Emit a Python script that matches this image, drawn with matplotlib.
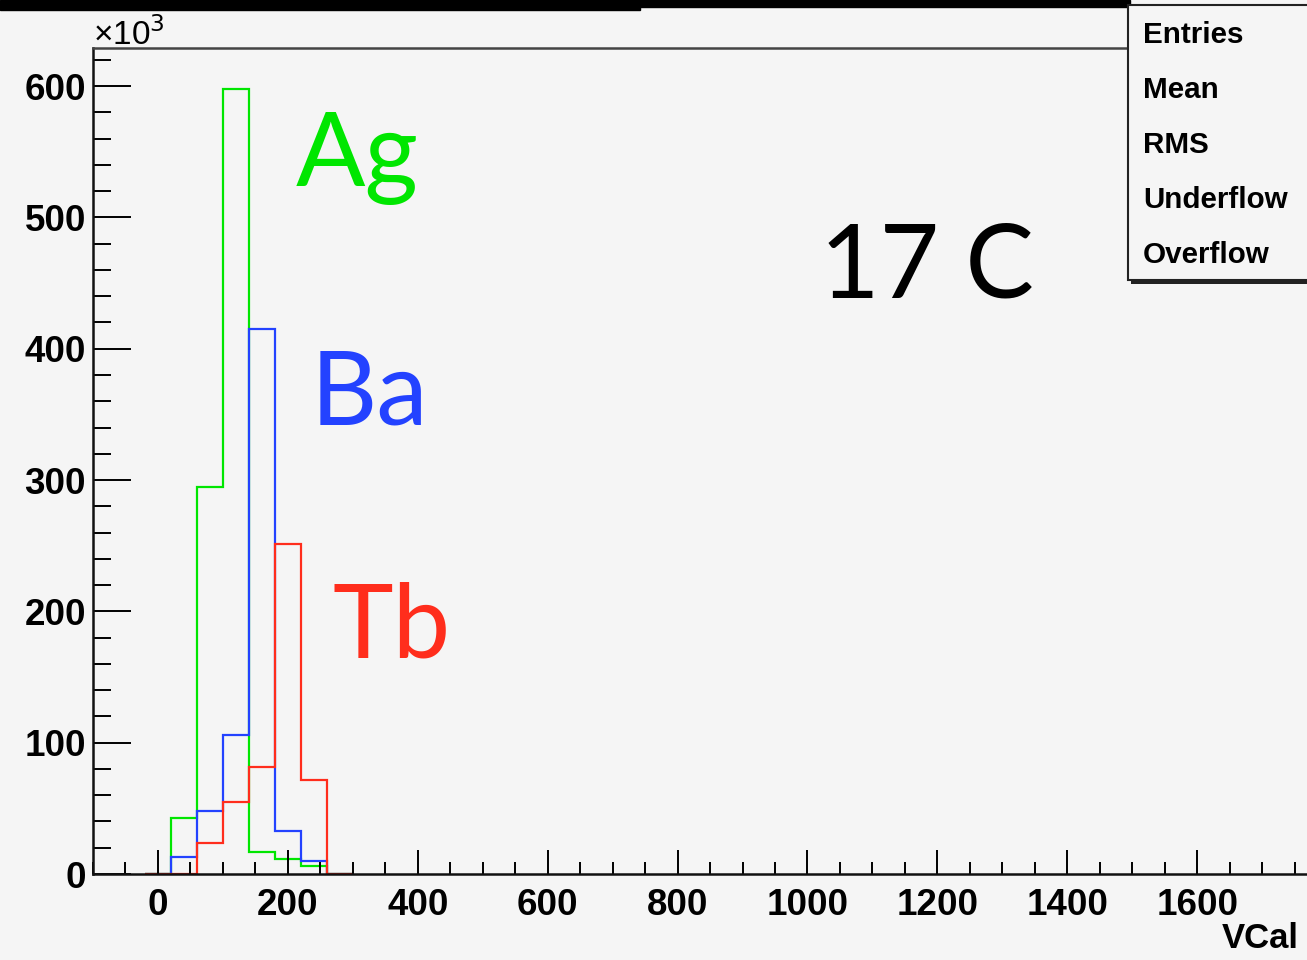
import numpy as np
import matplotlib.pyplot as plt
from matplotlib.patches import Rectangle
from matplotlib.ticker import MultipleLocator

## bin edges in VCal, counts in thousands
edges = [-20, 20, 60, 100, 140, 180, 220, 260, 300]
ag_counts = [0, 43, 295, 598, 16.5, 11.4, 6, 0]
ba_counts = [0, 13, 47.7, 106, 415, 32.7, 10, 0]
tb_counts = [0, 0, 23.3, 54.6, 81.2, 251.5, 71.3, 0]

names = ["Ag", "Ba", "Tb"]
colors = ["#00e600", "#2342ff", "#ff2d1c"]
label_pos = [(212, 524), (235, 342), (269, 165)]

stat_names = ["Entries", "Mean", "RMS", "Underflow", "Overflow"]
x_ticks = [0, 200, 400, 600, 800, 1000, 1200, 1400, 1600]
y_ticks = [0, 100, 200, 300, 400, 500, 600]

bg = "#f5f5f5"
W, H = 1307, 960
fig = plt.figure(figsize=(W / 100, H / 100), dpi=100, facecolor=bg)

# axes runs off the right edge of the picture, like the cropped original
ax = fig.add_axes([93 / W, 1 - 874 / H, 1299 / W, (874 - 48) / H])
ax.set_facecolor(bg)
ax.set_xlim(-100, 1900)
ax.set_ylim(0, 629)

for counts, c in zip([ag_counts, ba_counts, tb_counts], colors):
    ax.stairs(counts, edges, color=c, lw=1.6, baseline=0)

for name, c, (x, y) in zip(names, colors, label_pos):
    ax.text(x, y, name, color=c, fontsize=74, family="Lato", va="baseline", ha="left")
ax.text(1020, 439, "17 C", color="black", fontsize=74, family="Lato", va="baseline", ha="left")

ax.xaxis.set_major_locator(plt.FixedLocator(x_ticks))
ax.xaxis.set_minor_locator(MultipleLocator(50))
ax.yaxis.set_major_locator(plt.FixedLocator(y_ticks))
ax.yaxis.set_minor_locator(MultipleLocator(20))
ax.tick_params(axis="x", which="major", direction="in", length=17, width=1.4, pad=10)
ax.tick_params(axis="x", which="minor", direction="in", length=8.5, width=1.4)
ax.tick_params(axis="y", which="major", direction="in", length=27, width=1.4, pad=5)
ax.tick_params(axis="y", which="minor", direction="in", length=13, width=1.4)
for lab in ax.get_xticklabels() + ax.get_yticklabels():
    lab.set_fontfamily("Liberation Sans")
    lab.set_fontweight("bold")
    lab.set_fontsize(26.5)

for s in ["left", "bottom"]:
    ax.spines[s].set_linewidth(1.8)
    ax.spines[s].set_color("#111111")
ax.spines["top"].set_linewidth(1.8)
ax.spines["top"].set_color("#444444")
ax.spines["right"].set_visible(False)

fig.text(93 / W, 1 - 45 / H, "×10$^3$", fontsize=24, family="Liberation Sans",
         ha="left", va="baseline")
fig.text(1222 / W, 1 - 948 / H, "VCal", fontsize=25, family="Liberation Sans",
         fontweight="bold", ha="left", va="baseline")

# black strip at the top of the slide
fig.patches.append(Rectangle((0, 1 - 10 / H), 640 / W, 10 / H, transform=fig.transFigure,
                             color="black", zorder=5))
fig.patches.append(Rectangle((640 / W, 1 - 7 / H), (1130 - 640) / W, 7 / H,
                             transform=fig.transFigure, color="black", zorder=5))

# stats box, cut off at the right
fig.patches.append(Rectangle((1131 / W, 1 - 284 / H), 200 / W, 280 / H, transform=fig.transFigure,
                             facecolor="#222222", edgecolor="none", zorder=5))
fig.patches.append(Rectangle((1128 / W, 1 - 280 / H), 200 / W, 275 / H, transform=fig.transFigure,
                             facecolor=bg, edgecolor="#222222", lw=1.5, zorder=6))
for i, s in enumerate(stat_names):
    fig.text(1143 / W, 1 - (35 + 55 * i) / H, s, fontsize=21.3, family="Liberation Sans",
             fontweight="bold", ha="left", va="center", zorder=7)

fig.savefig("out.png", dpi=100, facecolor=bg)
